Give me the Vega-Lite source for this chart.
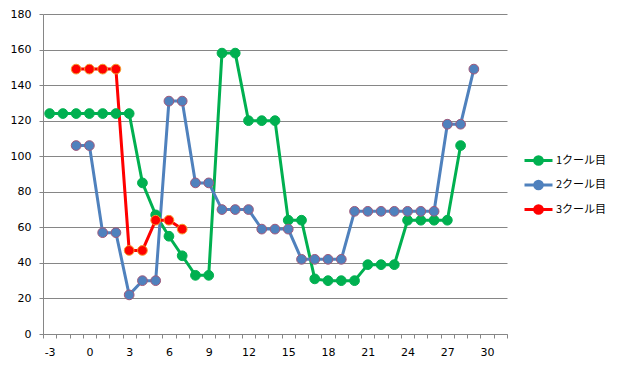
{
  "$schema": "https://vega.github.io/schema/vega-lite/v6.json",
  "width": 464,
  "height": 320,
  "autosize": "none",
  "padding": {"left": 43, "top": 14, "right": 119, "bottom": 35},
  "background": "white",
  "config": {
    "view": {"stroke": null},
    "font": "DejaVu Sans",
    "axis": {"labelFont": "DejaVu Sans", "labelFontSize": 11, "labelColor": "#000000", "domainColor": "#868686", "tickColor": "#868686", "gridColor": "#868686", "title": null}
  },
  "data": {"values": [
    {"x": -3, "y": 124, "s": "1クール目"}, {"x": -2, "y": 124, "s": "1クール目"}, {"x": -1, "y": 124, "s": "1クール目"}, {"x": 0, "y": 124, "s": "1クール目"}, {"x": 1, "y": 124, "s": "1クール目"}, {"x": 2, "y": 124, "s": "1クール目"}, {"x": 3, "y": 124, "s": "1クール目"}, {"x": 4, "y": 85, "s": "1クール目"}, {"x": 5, "y": 67, "s": "1クール目"}, {"x": 6, "y": 55, "s": "1クール目"}, {"x": 7, "y": 44, "s": "1クール目"}, {"x": 8, "y": 33, "s": "1クール目"}, {"x": 9, "y": 33, "s": "1クール目"}, {"x": 10, "y": 158, "s": "1クール目"}, {"x": 11, "y": 158, "s": "1クール目"}, {"x": 12, "y": 120, "s": "1クール目"}, {"x": 13, "y": 120, "s": "1クール目"}, {"x": 14, "y": 120, "s": "1クール目"}, {"x": 15, "y": 64, "s": "1クール目"}, {"x": 16, "y": 64, "s": "1クール目"}, {"x": 17, "y": 31, "s": "1クール目"}, {"x": 18, "y": 30, "s": "1クール目"}, {"x": 19, "y": 30, "s": "1クール目"}, {"x": 20, "y": 30, "s": "1クール目"}, {"x": 21, "y": 39, "s": "1クール目"}, {"x": 22, "y": 39, "s": "1クール目"}, {"x": 23, "y": 39, "s": "1クール目"}, {"x": 24, "y": 64, "s": "1クール目"}, {"x": 25, "y": 64, "s": "1クール目"}, {"x": 26, "y": 64, "s": "1クール目"}, {"x": 27, "y": 64, "s": "1クール目"}, {"x": 28, "y": 106, "s": "1クール目"},
    {"x": -1, "y": 106, "s": "2クール目"}, {"x": 0, "y": 106, "s": "2クール目"}, {"x": 1, "y": 57, "s": "2クール目"}, {"x": 2, "y": 57, "s": "2クール目"}, {"x": 3, "y": 22, "s": "2クール目"}, {"x": 4, "y": 30, "s": "2クール目"}, {"x": 5, "y": 30, "s": "2クール目"}, {"x": 6, "y": 131, "s": "2クール目"}, {"x": 7, "y": 131, "s": "2クール目"}, {"x": 8, "y": 85, "s": "2クール目"}, {"x": 9, "y": 85, "s": "2クール目"}, {"x": 10, "y": 70, "s": "2クール目"}, {"x": 11, "y": 70, "s": "2クール目"}, {"x": 12, "y": 70, "s": "2クール目"}, {"x": 13, "y": 59, "s": "2クール目"}, {"x": 14, "y": 59, "s": "2クール目"}, {"x": 15, "y": 59, "s": "2クール目"}, {"x": 16, "y": 42, "s": "2クール目"}, {"x": 17, "y": 42, "s": "2クール目"}, {"x": 18, "y": 42, "s": "2クール目"}, {"x": 19, "y": 42, "s": "2クール目"}, {"x": 20, "y": 69, "s": "2クール目"}, {"x": 21, "y": 69, "s": "2クール目"}, {"x": 22, "y": 69, "s": "2クール目"}, {"x": 23, "y": 69, "s": "2クール目"}, {"x": 24, "y": 69, "s": "2クール目"}, {"x": 25, "y": 69, "s": "2クール目"}, {"x": 26, "y": 69, "s": "2クール目"}, {"x": 27, "y": 118, "s": "2クール目"}, {"x": 28, "y": 118, "s": "2クール目"}, {"x": 29, "y": 149, "s": "2クール目"},
    {"x": -1, "y": 149, "s": "3クール目"}, {"x": 0, "y": 149, "s": "3クール目"}, {"x": 1, "y": 149, "s": "3クール目"}, {"x": 2, "y": 149, "s": "3クール目"}, {"x": 3, "y": 47, "s": "3クール目"}, {"x": 4, "y": 47, "s": "3クール目"}, {"x": 5, "y": 64, "s": "3クール目"}, {"x": 6, "y": 64, "s": "3クール目"}, {"x": 7, "y": 59, "s": "3クール目"}
  ]},
  "layer": [
    {
      "mark": {"type": "line", "strokeWidth": 3},
      "encoding": {
        "x": {"field": "x", "type": "quantitative", "scale": {"domain": [-3.5, 31.5], "nice": false, "zero": false},
              "axis": {"orient": "bottom", "values": [-3.5,-2.5,-1.5,-0.5,0.5,1.5,2.5,3.5,4.5,5.5,6.5,7.5,8.5,9.5,10.5,11.5,12.5,13.5,14.5,15.5,16.5,17.5,18.5,19.5,20.5,21.5,22.5,23.5,24.5,25.5,26.5,27.5,28.5,29.5,30.5,31.5],
                       "labels": false, "domain": false, "grid": false, "ticks": true, "tickSize": 4}},
        "y": {"field": "y", "type": "quantitative", "scale": {"domain": [0, 180], "nice": false},
              "axis": {"values": [0,20,40,60,80,100,120,140,160,180], "grid": true, "ticks": true, "tickSize": 4, "labelPadding": 8, "domain": true, "labelOverlap": false}},
        "color": {"field": "s", "type": "nominal",
                  "scale": {"domain": ["1クール目", "2クール目", "3クール目"], "range": ["#00B050", "#4F81BD", "#FF0000"]},
                  "legend": {"orient": "none", "legendX": 480, "legendY": 138, "title": null, "padding": 0,
                             "labelFont": "Noto Sans CJK JP", "labelFontSize": 11, "labelColor": "#000000",
                             "symbolType": "M-2,0L2,0M-0.55,0A0.55,0.55,0,1,1,0.55,0A0.55,0.55,0,1,1,-0.55,0Z",
                             "symbolSize": 196, "symbolStrokeWidth": 3, "symbolOffset": 7, "labelOffset": 9, "rowPadding": 3.5,
                             "encode": {"symbols": {"update": {"fill": {"scale": "color", "field": "value"}, "stroke": {"scale": "color", "field": "value"}, "opacity": {"value": 1}}}}}}
      }
    },
    {
      "mark": {"type": "point", "filled": true, "size": 95, "strokeWidth": 1, "opacity": 1},
      "encoding": {
        "x": {"field": "x", "type": "quantitative",
              "axis": {"orient": "bottom", "values": [-3,0,3,6,9,12,15,18,21,24,27,30], "labelExpr": "'' + datum.value", "ticks": false, "grid": false, "domain": true, "labelPadding": 12}},
        "y": {"field": "y", "type": "quantitative",
              "axis": {"values": [0,20,40,60,80,100,120,140,160,180], "grid": true, "ticks": true, "tickSize": 4, "labelPadding": 8, "domain": true, "labelOverlap": false}},
        "color": {"field": "s", "type": "nominal"},
        "stroke": {"field": "s", "type": "nominal",
                   "scale": {"domain": ["1クール目", "2クール目", "3クール目"], "range": ["#00B050", "#A0587A", "#F59B2B"]},
                   "legend": null}
      }
    }
  ],
  "resolve": {"axis": {"x": "independent"}}
}
